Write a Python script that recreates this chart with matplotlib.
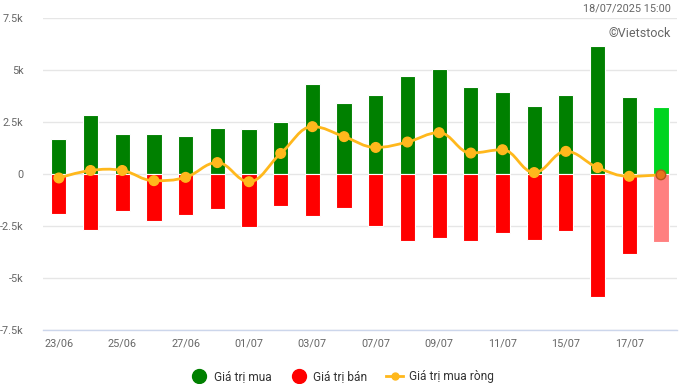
import matplotlib
matplotlib.use("Agg")
import matplotlib.pyplot as plt
from matplotlib.path import Path
from matplotlib.patches import PathPatch
from matplotlib.lines import Line2D
import numpy as np

plt.rcParams['font.family'] = ['Roboto', 'DejaVu Sans']

dates = ["23/06", "24/06", "25/06", "26/06", "27/06", "30/06", "01/07", "02/07",
         "03/07", "04/07", "07/07", "08/07", "09/07", "10/07", "11/07", "14/07",
         "15/07", "16/07", "17/07", "18/07"]
buy = [1700, 2850, 1940, 1940, 1840, 2230, 2180, 2530, 4320, 3450, 3790, 4750,
       5080, 4210, 3970, 3290, 3820, 6190, 3730, 3240]
sell = [-1920, -2690, -1780, -2260, -1970, -1680, -2550, -1530, -2020, -1630,
        -2500, -3230, -3080, -3230, -2840, -3180, -2740, -5890, -3860, -3280]
net = [-180, 180, 180, -310, -150, 560, -360, 1000, 2290, 1810, 1290, 1550,
       2000, 1020, 1180, 80, 1100, 320, -100, -30]
tick_labels = ["23/06", "25/06", "27/06", "01/07", "03/07", "07/07", "09/07",
               "11/07", "15/07", "17/07"]
yticks = [-7500, -5000, -2500, 0, 2500, 5000, 7500]
ytick_labels = ["-7.5k", "-5k", "-2.5k", "0", "2.5k", "5k", "7.5k"]

fig = plt.figure(figsize=(6.85, 3.84), dpi=100)
ax = fig.add_axes([0.0628, 0.1406, 0.9252, 0.8114])

x = np.arange(len(dates))
buy_colors = ["#008000"] * (len(dates) - 1) + ["#00d41f"]
sell_colors = ["#ff0000"] * (len(dates) - 1) + ["#ff8080"]
ax.bar(x, buy, width=0.48, color=buy_colors, edgecolor="white", linewidth=0.8, zorder=2)
ax.bar(x, sell, width=0.48, color=sell_colors, edgecolor="white", linewidth=0.8, zorder=2)

# smooth spline path through net points (Highcharts-like)
xs = x.astype(float)
ys = np.array(net, dtype=float)
sm = 1.5


def ctrl(j):
    if j <= 0 or j >= len(xs) - 1:
        return None
    lx, ly = xs[j - 1], ys[j - 1]
    nx, ny = xs[j + 1], ys[j + 1]
    lcx = (sm * xs[j] + lx) / (sm + 1)
    lcy = (sm * ys[j] + ly) / (sm + 1)
    rcx = (sm * xs[j] + nx) / (sm + 1)
    rcy = (sm * ys[j] + ny) / (sm + 1)
    corr = ((rcy - lcy) * (rcx - xs[j])) / (rcx - lcx) + ys[j] - rcy
    lcy += corr
    rcy += corr
    if (ly > ys[j] and ny > ys[j]) or (ly < ys[j] and ny < ys[j]):
        lcy = rcy = ys[j]
    return (lcx, lcy), (rcx, rcy)


verts = [(xs[0], ys[0])]
codes = [Path.MOVETO]
for i in range(1, len(xs)):
    c_prev = ctrl(i - 1)
    c_cur = ctrl(i)
    p1 = c_prev[1] if c_prev else (xs[i - 1], ys[i - 1])
    p2 = c_cur[0] if c_cur else (xs[i], ys[i])
    verts += [p1, p2, (xs[i], ys[i])]
    codes += [Path.CURVE4, Path.CURVE4, Path.CURVE4]
ax.add_patch(PathPatch(Path(verts, codes), fill=False, edgecolor="#ffb81c",
                       linewidth=2, zorder=3))
mcol = ["#ffb81c"] * (len(dates) - 1) + ["#e8741c"]
medge = ["#ffb81c"] * (len(dates) - 1) + ["#b5561a"]
ax.scatter(x, net, s=48, c=mcol, edgecolors=medge, linewidths=1, zorder=4)

ax.set_xlim(-0.5, len(dates) - 0.5)
ax.set_ylim(-7500, 7500)
ax.set_yticks(yticks)
ax.set_yticklabels(ytick_labels)
ax.set_xticks([dates.index(t) for t in tick_labels])
ax.set_xticklabels(tick_labels)
ax.tick_params(axis="both", length=0, labelsize=7.8, colors="#666666")
ax.tick_params(axis="y", pad=14)
ax.tick_params(axis="x", pad=6)
ax.grid(axis="y", color="#e6e6e6", linewidth=1, zorder=0)
ax.set_axisbelow(True)
for s in ["top", "right", "left"]:
    ax.spines[s].set_visible(False)
ax.spines["bottom"].set_color("#ccd6eb")
ax.spines["bottom"].set_linewidth(1)

fig.text(0.98, 0.977, "18/07/2025 15:00", ha="right", va="center",
         fontsize=7.8, color="#666666")
fig.text(0.979, 0.912, "\u00a9Vietstock", ha="right", va="center",
         fontsize=9, color="#666666")

handles = [
    Line2D([], [], marker="o", linestyle="none", markersize=10, color="#008000"),
    Line2D([], [], marker="o", linestyle="none", markersize=10, color="#ff0000"),
    Line2D([], [], marker="o", linestyle="-", markersize=5, linewidth=2, color="#ffb81c"),
]
fig.legend(handles, ["Giá trị mua", "Giá trị bán", "Giá trị mua ròng"],
           loc="center", bbox_to_anchor=(0.5, 0.02), ncol=3, frameon=False,
           fontsize=8.6, labelcolor="#333333", handlelength=1.4, handletextpad=0.5,
           columnspacing=1.6)

fig.savefig("out.png", dpi=100, facecolor="white")
